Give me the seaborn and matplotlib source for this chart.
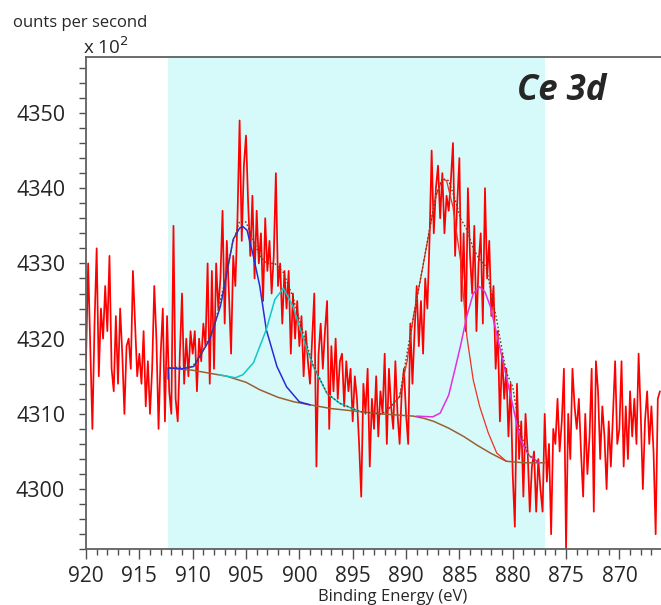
import numpy as np
import matplotlib
matplotlib.use("Agg")
import matplotlib.pyplot as plt
from matplotlib.ticker import MultipleLocator
import seaborn as sns

# Ce 3d XPS spectrum, counts in units of 10^2 counts/s
energy = np.linspace(920.0, 866.2, 270)
counts = [
    4317, 4330, 4319, 4308, 4322, 4332, 4315, 4324, 4320, 4327,
    4321, 4331, 4316, 4313, 4323, 4314, 4324, 4318, 4310, 4319,
    4320, 4316, 4329, 4322, 4315, 4318, 4314, 4321, 4311, 4317,
    4310, 4316, 4327, 4320, 4308, 4318, 4324, 4309, 4323, 4313,
    4310, 4335, 4312, 4309, 4318, 4326, 4314, 4320, 4315, 4321,
    4318, 4321, 4313, 4320, 4317, 4322, 4319, 4330, 4314, 4329,
    4316, 4330, 4324, 4328, 4337, 4322, 4333, 4326, 4318, 4331,
    4327, 4336, 4349, 4333, 4343, 4347, 4338, 4331, 4339, 4328,
    4337, 4330, 4334, 4325, 4336, 4329, 4333, 4326, 4331, 4342,
    4327, 4330, 4322, 4329, 4324, 4329, 4318, 4326, 4320, 4325,
    4319, 4323, 4315, 4321, 4317, 4314, 4320, 4326, 4303, 4318,
    4322, 4316, 4321, 4325, 4308, 4319, 4313, 4320, 4312, 4317,
    4318, 4311, 4317, 4313, 4316, 4309, 4315, 4312, 4306, 4299,
    4314, 4310, 4316, 4303, 4312, 4308, 4315, 4307, 4313, 4310,
    4318, 4306, 4316, 4311, 4308, 4317, 4310, 4306, 4313, 4316,
    4310, 4306, 4322, 4314, 4321, 4327, 4319, 4325, 4318, 4328,
    4324, 4333, 4345, 4334, 4340, 4343, 4336, 4342, 4334, 4339,
    4337, 4341, 4346, 4331, 4338, 4344, 4325, 4334, 4321, 4340,
    4331, 4326, 4335, 4321, 4330, 4334, 4322, 4340, 4328, 4333,
    4323, 4327, 4316, 4321, 4309, 4318, 4312, 4316, 4307, 4314,
    4302, 4295, 4314, 4304, 4309, 4299, 4310, 4305, 4297, 4303,
    4305, 4297, 4304, 4300, 4297, 4310, 4301, 4306, 4294, 4308,
    4306, 4312, 4305, 4309, 4316, 4292, 4310, 4304, 4316, 4311,
    4308, 4312, 4305, 4299, 4310, 4302, 4307, 4316, 4297, 4317,
    4313, 4304, 4311, 4307, 4300, 4309, 4303, 4310, 4317, 4306,
    4308, 4317, 4303, 4311, 4304, 4313, 4307, 4312, 4306, 4318,
    4310, 4300, 4309, 4313, 4306, 4311, 4305, 4294, 4312, 4313,
]

# fitted components
bg_x = [912.3, 910.0, 908.0, 906.8, 905.0, 903.7, 902.0, 900.5, 899.0, 897.0,
        894.3, 892.4, 889.3, 888.3, 887.4, 886.0, 884.6, 883.3, 882.1, 880.6,
        879.0, 877.0]
bg_y = [4316.1, 4315.8, 4315.3, 4315.0, 4314.2, 4313.2, 4312.2, 4311.6, 4311.2, 4310.7,
        4310.3, 4310.0, 4309.7, 4309.4, 4309.0, 4308.1, 4307.0, 4305.8, 4304.8, 4303.7,
        4303.5, 4303.5]

blue_x = [912.3, 912.3, 911.0, 909.9, 908.4, 907.4, 906.8, 906.2, 905.6, 905.3,
          904.9, 904.3, 903.7, 903.1, 902.1, 901.2, 900.0, 899.0]
blue_y = [4314.6, 4316.1, 4316.0, 4316.3, 4319.9, 4324.3, 4328.7, 4333.2, 4334.7, 4334.9,
          4334.4, 4330.9, 4326.9, 4321.2, 4316.3, 4313.6, 4311.6, 4311.2]

cyan_x = [907.5, 906.0, 905.3, 904.3, 903.7, 903.1, 902.3, 901.5, 900.6, 899.6,
          898.7, 897.4, 896.2, 895.0, 894.3]
cyan_y = [4315.2, 4314.8, 4315.2, 4316.8, 4319.0, 4321.2, 4325.2, 4326.7, 4324.3, 4319.9,
          4316.3, 4312.7, 4311.4, 4310.7, 4310.3]

red_x = [891.8, 890.6, 889.9, 889.3, 888.5, 887.8, 887.2, 886.6, 886.2, 885.6,
         884.9, 884.3, 883.7, 883.1, 882.3, 881.5, 880.6]
red_y = [4310.4, 4312.3, 4317.0, 4323.0, 4329.0, 4334.4, 4339.0, 4341.2, 4341.0, 4337.5,
         4330.5, 4320.3, 4314.5, 4311.0, 4307.5, 4304.8, 4303.7]

mag_x = [889.0, 887.5, 886.8, 886.0, 885.4, 884.9, 884.3, 883.7, 883.1, 882.6,
         882.1, 881.4, 880.6, 879.9, 879.3, 878.5, 877.5]
mag_y = [4309.7, 4309.6, 4310.1, 4312.5, 4316.0, 4319.0, 4323.0, 4326.0, 4326.9, 4326.2,
         4324.3, 4320.0, 4315.0, 4310.5, 4306.6, 4304.5, 4303.5]

env_x = [912.3, 910.0, 909.0, 908.0, 907.0, 906.3, 905.6, 905.0, 904.3, 903.7,
         903.1, 902.3, 901.5, 900.6, 899.6, 898.7, 897.4, 896.2, 895.0, 894.3,
         892.4, 891.8, 890.6, 889.3, 888.5, 887.8, 887.2, 886.6, 886.0, 885.4,
         884.9, 884.3, 883.7, 883.1, 882.5, 882.0, 881.5, 881.0, 880.6, 880.0,
         879.3, 878.5, 877.5]
env_y = [4316.1, 4316.3, 4318.5, 4321.5, 4327.5, 4332.5, 4335.6, 4335.5, 4333.0, 4331.0,
         4330.0, 4330.0, 4328.8, 4325.5, 4320.5, 4316.5, 4312.7, 4311.4, 4310.7, 4310.3,
         4310.0, 4310.4, 4312.3, 4323.0, 4329.0, 4334.5, 4339.0, 4341.3, 4341.0, 4338.5,
         4336.0, 4334.5, 4332.0, 4330.5, 4329.6, 4326.0, 4322.5, 4318.5, 4315.5, 4313.6,
         4307.5, 4304.5, 4303.5]

region = (912.3, 877.0)

sns.set_style("white")
plt.rcParams['font.family'] = ['Open Sans', 'DejaVu Sans']

fig = plt.figure(figsize=(6.61, 6.05), dpi=100)
ax = fig.add_axes([0.1301, 0.0921, 0.8699, 0.8132])

ax.axvspan(region[0], region[1], color="#D6FAFA", lw=0, zorder=0)

sns.lineplot(x=energy, y=counts, ax=ax, color="#FF0000", lw=1.25,
             sort=False, estimator=None, zorder=2)
sns.lineplot(x=bg_x, y=bg_y, ax=ax, color="#9A6030", lw=1.1, sort=False, estimator=None, zorder=3)
sns.lineplot(x=blue_x, y=blue_y, ax=ax, color="#2A2AD8", lw=1.1, sort=False, estimator=None, zorder=3)
sns.lineplot(x=cyan_x, y=cyan_y, ax=ax, color="#10C8C8", lw=1.1, sort=False, estimator=None, zorder=3)
sns.lineplot(x=red_x, y=red_y, ax=ax, color="#F03020", lw=0.9, sort=False, estimator=None, zorder=3)
sns.lineplot(x=mag_x, y=mag_y, ax=ax, color="#E030E0", lw=1.1, sort=False, estimator=None, zorder=3)
sns.lineplot(x=env_x, y=env_y, ax=ax, color="#6B4020", lw=1.0, ls=(0, (1.2, 1.5)),
             sort=False, estimator=None, zorder=4)

ax.set_xlim(920, 866.1)
ax.set_ylim(4292.0, 4357.4)
ax.xaxis.set_major_locator(MultipleLocator(5))
ax.xaxis.set_minor_locator(MultipleLocator(1))
ax.yaxis.set_major_locator(MultipleLocator(10))
ax.yaxis.set_minor_locator(MultipleLocator(2))

ax.tick_params(axis='x', which='major', direction='out', length=7, width=1,
               color='#505050', labelsize=15, pad=5, bottom=True)
ax.tick_params(axis='x', which='minor', direction='out', length=4, width=1,
               color='#505050', bottom=True)
ax.tick_params(axis='y', which='both', direction='out', length=5, width=1,
               color='#505050', labelsize=15.5, pad=10, left=True)

for side in ['left', 'bottom', 'top']:
    ax.spines[side].set_color('#606060')
    ax.spines[side].set_linewidth(1.3)
ax.spines['right'].set_visible(False)
ax.set_xlabel("")
ax.set_ylabel("")

fig.text(393 / 661, 1 - 597 / 605, "Binding Energy (eV)", fontsize=12,
         ha='center', va='center')
fig.text(147 / 661, 1 - 23 / 605, "ounts per second", fontsize=12,
         ha='right', va='center')
fig.text(83 / 661, 1 - 47 / 605, "x 10$^2$", fontsize=13.5, ha='left', va='center')
fig.text(561.5 / 661, 1 - 91.5 / 605, "Ce 3d", fontsize=25, fontweight='bold',
         fontstyle='italic', ha='center', va='center')

fig.savefig("out.png", dpi=100)
